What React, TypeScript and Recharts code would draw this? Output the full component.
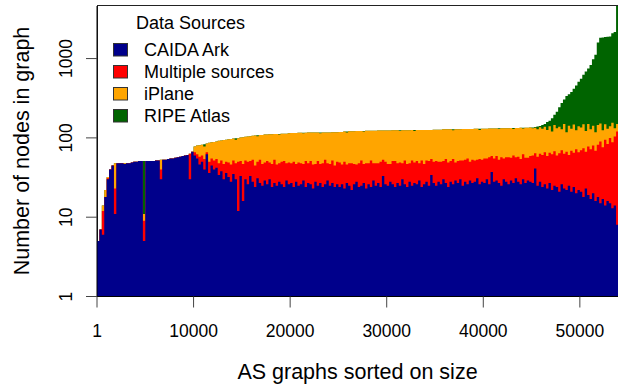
import { Area, ComposedChart, Customized, XAxis, YAxis } from 'recharts'

// AS graphs sorted on size; one sample every STEP graphs (rank along x)
const STEP = 250

const caidaArk = [
  5, 7, 6, 18, 30, 40, 45, 11, 48, 48, 48, 47, 48, 48, 49, 50, 50, 51, 51, 5,
  51, 51, 51, 51, 52, 52, 30, 53, 53, 54, 55, 55, 56, 57, 58, 59, 60, 61, 30, 67,
  60, 55, 46, 50, 40, 62, 36, 45, 40, 42, 34, 38, 30, 36, 32, 28, 35, 30, 12, 33,
  16, 30, 26, 33, 28, 24, 31, 27, 25, 29, 26, 30, 24, 27, 25, 28, 26, 24, 29, 26,
  27, 24, 28, 25, 26, 29, 24, 27, 26, 23, 28, 25, 27, 24, 26, 29, 25, 27, 24, 26,
  24, 26, 23, 27, 25, 22, 26, 28, 24, 25, 27, 23, 26, 24, 29, 25, 27, 24, 33, 26,
  25, 28, 26, 24, 27, 25, 30, 26, 24, 28, 25, 27, 26, 29, 24, 26, 28, 25, 34, 27,
  25, 28, 26, 30, 27, 24, 28, 26, 29, 27, 30, 25, 28, 26, 29, 27, 28, 31, 26, 28,
  27, 30, 26, 37, 28, 29, 27, 25, 30, 28, 26, 29, 27, 31, 28, 26, 30, 27, 29, 28,
  27, 41, 25, 28, 24, 26, 23, 27, 22, 25, 24, 21, 26, 23, 22, 25, 21, 24, 20, 22,
  21, 18, 23, 19, 17, 20, 16, 18, 15, 17, 14, 16, 15, 13, 14, 8,
]

const multipleSources = [
  0, 0, 6, 0, 1, 0, 0, 12, 0, 0, 0, 0, 0, 0, 0, 0, 0, 0, 0, 4,
  0, 0, 0, 0, 0, 0, 10, 0, 0, 0, 0, 0, 0, 0, 0, 0, 0, 0, 33, 0,
  6, 7, 12, 10, 14, 4, 14, 10, 12, 12, 14, 14, 17, 14, 17, 18, 17, 18, 38, 18,
  31, 22, 24, 18, 25, 21, 19, 26, 22, 20, 25, 19, 23, 26, 21, 20, 24, 27, 19, 23,
  21, 26, 19, 24, 22, 18, 27, 21, 25, 23, 19, 26, 20, 24, 27, 19, 22, 25, 21, 24,
  25, 20, 27, 19, 23, 26, 21, 18, 24, 27, 20, 25, 22, 28, 19, 23, 21, 26, 20, 24,
  22, 19, 25, 27, 21, 24, 18, 26, 23, 20, 27, 22, 25, 19, 28, 21, 24, 26, 20, 23,
  26, 22, 24, 21, 27, 25, 23, 28, 20, 24, 22, 27, 25, 29, 21, 26, 24, 22, 28, 25,
  28, 25, 31, 22, 27, 30, 26, 32, 25, 29, 31, 27, 33, 26, 30, 28, 32, 29, 27, 31,
  33, 23, 33, 35, 37, 40, 36, 38, 40, 43, 36, 43, 44, 40, 45, 36, 48, 41, 52, 44,
  49, 56, 44, 59, 55, 60, 53, 64, 75, 59, 81, 68, 85, 75, 90, 112,
]

const iPlane = [
  0, 0, 2, 4, 1, 0, 0, 25, 0, 0, 0, 1, 0, 0, 0, 0, 0, 0, 0, 2,
  0, 0, 0, 0, 0, 0, 13, 0, 0, 0, 0, 0, 0, 0, 0, 0, 0, 0, 0, 0,
  12, 18, 23, 22, 24, 19, 37, 33, 37, 36, 44, 41, 47, 45, 47, 51, 46, 47, 49, 50,
  55, 51, 54, 54, 53, 62, 55, 56, 62, 61, 59, 62, 64, 59, 66, 62, 63, 62, 65, 65,
  67, 65, 68, 67, 68, 67, 65, 69, 66, 71, 70, 66, 67, 69, 64, 69, 70, 66, 73, 68,
  70, 73, 70, 71, 73, 73, 74, 76, 74, 70, 73, 75, 75, 71, 75, 75, 76, 74, 71, 74,
  77, 77, 74, 74, 77, 73, 77, 73, 78, 77, 74, 73, 75, 78, 74, 79, 74, 75, 72, 77,
  76, 77, 77, 77, 74, 79, 77, 71, 79, 77, 76, 77, 76, 74, 79, 76, 78, 77, 72, 77,
  75, 75, 74, 72, 76, 72, 76, 75, 77, 75, 75, 77, 69, 76, 75, 80, 69, 78, 78, 76,
  72, 70, 70, 73, 69, 72, 67, 75, 58, 77, 72, 74, 58, 87, 51, 81, 61, 82, 53, 74,
  65, 74, 55, 72, 56, 62, 49, 63, 62, 49, 53, 46, 40, 67, 28, 30,
]

const ripeAtlas = [
  0, 0, 0, 0, 0, 0, 0, 0, 0, 0, 0, 0, 0, 0, 0, 0, 0, 0, 0, 40,
  0, 0, 0, 0, 0, 0, 0, 0, 0, 0, 0, 0, 0, 0, 0, 0, 0, 0, 0, 0,
  0, 0, 0, 0, 5, 0, 0, 0, 0, 0, 0, 0, 0, 0, 0, 0, 0, 4, 0, 0,
  0, 0, 0, 0, 0, 0, 3, 0, 0, 0, 0, 0, 0, 0, 0, 2, 0, 0, 0, 0,
  0, 0, 0, 0, 0, 2, 0, 0, 0, 0, 0, 0, 3, 0, 0, 0, 0, 0, 0, 0,
  0, 0, 0, 3, 0, 0, 0, 0, 0, 0, 2, 0, 0, 0, 0, 0, 0, 0, 0, 0,
  0, 0, 0, 0, 0, 3, 0, 0, 0, 0, 0, 4, 0, 0, 0, 0, 0, 0, 0, 0,
  0, 0, 0, 0, 0, 0, 0, 3, 0, 0, 0, 0, 0, 0, 0, 0, 0, 0, 4, 0,
  0, 0, 0, 0, 0, 0, 3, 0, 0, 0, 0, 0, 4, 0, 0, 0, 3, 0, 0, 0,
  3, 3, 11, 5, 15, 12, 32, 25, 57, 51, 82, 105, 147, 155, 219, 214, 250, 268, 333, 370,
  420, 477, 563, 600, 702, 838, 1002, 1455, 1678, 1725, 1722, 1750, 1760, 1935, 2028, 5850,
]

const X_TICKS = [1, 10000, 20000, 30000, 40000, 50000]
const Y_TICKS = [1, 10, 100, 1000]

const SOURCES = [
  { name: 'CAIDA Ark', color: '#00008b' },
  { name: 'Multiple sources', color: '#ff0000' },
  { name: 'iPlane', color: '#ffa500' },
  { name: 'RIPE Atlas', color: '#006400' },
]

const FONT = '"Liberation Sans", Arimo, Helvetica, Arial, sans-serif'

// cumulative tops so each layer can be drawn down to 1 on the log axis
const rows = caidaArk.map((ark, i) => {
  const ark_ = ark
  const multi = ark_ + multipleSources[i]
  const iplane = multi + iPlane[i]
  const ripe = iplane + ripeAtlas[i]
  return { x: i * STEP, ark: ark_, multi, iplane, ripe }
})
// close the last step at the right edge
rows.push({ ...rows[rows.length - 1], x: rows.length * STEP })

function XTick({ x, payload }: any) {
  return (
    <text x={x} y={336.5} textAnchor="middle" fontSize={17.5} fontFamily={FONT} fill="#000">
      {payload.value}
    </text>
  )
}

function YTick({ y, payload }: any) {
  return (
    <text
      x={72}
      y={y}
      transform={`rotate(-90 72 ${y})`}
      textAnchor="middle"
      fontSize={17.5}
      fontFamily={FONT}
      fill="#000"
    >
      {payload.value}
    </text>
  )
}

function Decorations() {
  return (
    <g fontFamily={FONT} fill="#000">
      <rect x={97.5} y={5.5} width={520} height={291} fill="none" stroke="#222" />
      <text x={28.5} y={151} transform="rotate(-90 28.5 151)" textAnchor="middle" fontSize={21.5}>
        Number of nodes in graph
      </text>
      <text x={357.5} y={379} textAnchor="middle" fontSize={21.5}>
        AS graphs sorted on size
      </text>

      {/* Legend */}
      <text x={136} y={28.5} fontSize={18}>
        Data Sources
      </text>
      {SOURCES.map((s, idx) => (
        <g key={s.name}>
          <rect x={113.5} y={43.5 + idx * 22} width={14} height={12.5} fill={s.color} stroke="#333" />
          <text x={144} y={56 + idx * 22} fontSize={18}>
            {s.name}
          </text>
        </g>
      ))}
    </g>
  )
}

export default function App() {
  return (
    <div style={{ position: 'fixed', left: 0, top: 0, width: 619, height: 386, background: '#fff' }}>
      <ComposedChart
        width={619}
        height={386}
        data={rows}
        margin={{ top: 6, right: 1, bottom: 0, left: 0 }}
      >
        <XAxis
          dataKey="x"
          type="number"
          domain={[0, 53950]}
          allowDataOverflow
          ticks={X_TICKS}
          tick={<XTick />}
          tickSize={11}
          tickLine={{ stroke: '#444' }}
          axisLine={{ stroke: '#000' }}
          height={89.5}
        />
        <YAxis
          type="number"
          scale="log"
          domain={[1, 4600]}
          allowDataOverflow
          ticks={Y_TICKS}
          tick={<YTick />}
          tickSize={11}
          tickLine={{ stroke: '#444' }}
          axisLine={{ stroke: '#000' }}
          width={97}
        />
        <Area dataKey="ripe" type="stepAfter" baseValue={1} fill={SOURCES[3].color} fillOpacity={1} stroke="none" isAnimationActive={false} />
        <Area dataKey="iplane" type="stepAfter" baseValue={1} fill={SOURCES[2].color} fillOpacity={1} stroke="none" isAnimationActive={false} />
        <Area dataKey="multi" type="stepAfter" baseValue={1} fill={SOURCES[1].color} fillOpacity={1} stroke="none" isAnimationActive={false} />
        <Area dataKey="ark" type="stepAfter" baseValue={1} fill={SOURCES[0].color} fillOpacity={1} stroke="none" isAnimationActive={false} />
        <Customized component={Decorations} />
      </ComposedChart>
    </div>
  )
}
